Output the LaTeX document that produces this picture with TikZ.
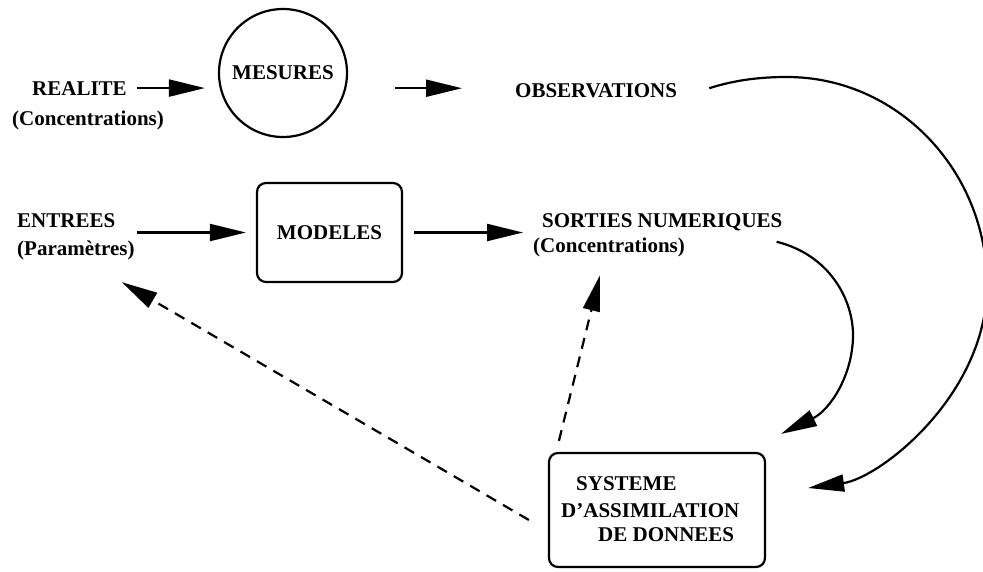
\documentclass[tikz,border=0pt]{standalone}
\usepackage{fontspec}
\setmainfont{Liberation Serif}
\usetikzlibrary{arrows.meta,calc}
\begin{document}
\begin{tikzpicture}[x=1pt,y=-1pt,
  txt/.style={font=\fontsize{21}{24}\selectfont\bfseries},
  lbl/.style={txt, inner sep=0pt, anchor=base west},
  arr/.style={line width=2.2pt, -{Triangle[length=36pt,width=17pt]}},
  darr/.style={arr, dash pattern=on 11pt off 8pt},
  box/.style={draw, line width=2.2pt, rounded corners=9pt, txt, inner sep=0pt},
]
\useasboundingbox (0,0) rectangle (983,571);

\node[lbl] (real) at (32,95) {REALITE};
\node[lbl] (conc1) at (12,125) {(Concentrations)};
\node[draw, circle, line width=2.2pt, minimum size=128pt, inner sep=0pt, txt] (mes) at (283,73) {MESURES};
\node[lbl] (obs) at (515,97) {OBSERVATIONS};
\node[lbl] (ent) at (17,227) {ENTREES};
\node[lbl] (par) at (17,255) {(Paramètres)};
\node[box, minimum width=145pt, minimum height=99pt] (mod) at (329.5,232.5) {MODELES};
\node[lbl] (sor) at (542,227) {SORTIES NUMERIQUES};
\node[lbl] (conc2) at (533,252) {(Concentrations)};
\node[box, minimum width=216pt, minimum height=114pt] (sys) at (657,510) {};
\node[lbl] (sys1) at (576,490) {SYSTEME};
\node[lbl] (sys2) at (561,517) {D’ASSIMILATION};
\node[lbl] (sys3) at (598,541) {DE DONNEES};

\draw[arr, shorten <=10pt, shorten >=13pt] (real.east) -- (real.east -| mes.west);
\draw[arr, shorten <=47pt, shorten >=53pt] ($(mes.east |- obs.west)+(0,-2)$) -- ($(obs.west)+(0,-2)$);
\draw[arr, shorten <=2pt, shorten >=10pt] (mod.west -| par.east) -- (mod.west);
\draw[arr, shorten <=11pt, shorten >=19pt] (mod.east) -- (mod.east -| sor.west);

\draw[arr] ($(obs.east)+(32,-2)$) .. controls (735,80) and (760,77) .. (787,77)
  .. controls (897,77) and (987,170) .. (987,285)
  .. controls (987,395) and (880,478) .. ($(sys.east)+(42,-22)$);

\draw[arr] ($(sor.east)+(-6,20)$) .. controls (830,255) and (853,300) .. (853,335)
  .. controls (853,375) and (830,410) .. ($(sys.north east)+(15,-18)$);

\draw[darr] ($(sys.north west)+(11,-11)$) -- ($(conc2.south)+(-9,18.5)$);
\draw[darr] ($(sys.west)+(-19,10)$) -- ($(par.south east)+(-13,22.5)$);
\end{tikzpicture}
\end{document}
